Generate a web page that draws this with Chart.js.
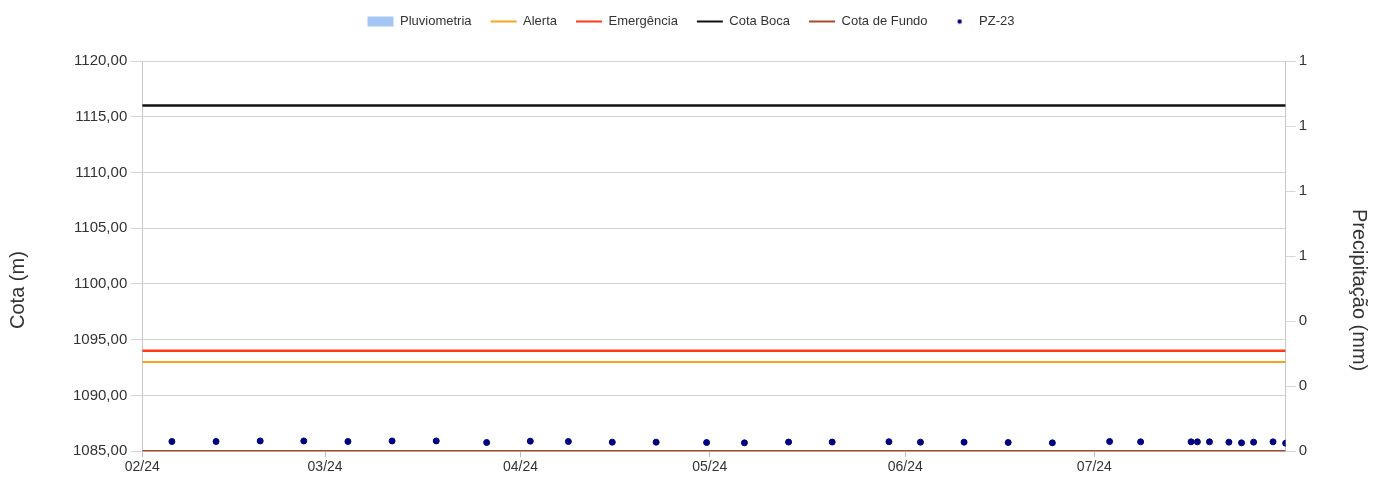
<!DOCTYPE html>
<html>
<head>
<meta charset="utf-8">
<title>PZ-23</title>
<script src="https://cdn.jsdelivr.net/npm/chart.js@4.4.1/dist/chart.umd.min.js"></script>
<style>
  html, body { margin: 0; padding: 0; background: #fff; }
  #wrap { width: 1389px; height: 499px; }
</style>
</head>
<body>
<div id="wrap"><canvas id="levelChart"></canvas></div>
<script>
// Leituras do piezômetro PZ-23 (data/hora e cota em m)
const readingDates = [
  '2024-02-05T17:00', '2024-02-12T17:00', '2024-02-19T17:00', '2024-02-26T15:00',
  '2024-03-04T15:00', '2024-03-11T15:00', '2024-03-18T15:00', '2024-03-26T15:00',
  '2024-04-02T13:00', '2024-04-08T14:00', '2024-04-15T13:00', '2024-04-22T12:00',
  '2024-04-30T12:00', '2024-05-06T12:00', '2024-05-13T12:00', '2024-05-20T10:00',
  '2024-05-29T10:00', '2024-06-03T10:00', '2024-06-10T08:00', '2024-06-17T08:00',
  '2024-06-24T08:00', '2024-07-03T10:00', '2024-07-08T08:00', '2024-07-16T08:00',
  '2024-07-17T08:00', '2024-07-19T06:00', '2024-07-22T08:00', '2024-07-24T08:00',
  '2024-07-26T06:00', '2024-07-29T08:00', '2024-07-31T08:00'
];
const pz23Levels = [
  1085.87, 1085.87, 1085.92, 1085.92, 1085.87, 1085.92, 1085.92, 1085.78,
  1085.90, 1085.87, 1085.81, 1085.81, 1085.78, 1085.75, 1085.82, 1085.82,
  1085.85, 1085.81, 1085.81, 1085.78, 1085.75, 1085.87, 1085.84, 1085.84,
  1085.84, 1085.84, 1085.81, 1085.75, 1085.81, 1085.84, 1085.72
];

// Pluviometria: sem registros no período
const rainDates = [];
const rainValues = [];

// Níveis de referência (m)
const alertaLevel = 1093;
const emergenciaLevel = 1094;
const cotaBocaLevel = 1116;
const cotaFundoLevel = 1085;

// Eixo X: início do período e rótulos dos meses
const periodStart = '2024-02-01T00:00';
const monthStarts = ['2024-02-01T00:00', '2024-03-01T00:00', '2024-04-01T00:00',
                     '2024-05-01T00:00', '2024-06-01T00:00', '2024-07-01T00:00'];
const monthLabels = ['02/24', '03/24', '04/24', '05/24', '06/24', '07/24'];

const DAY = 86400000;
const toDay = s => (Date.parse(s + ':00Z') - Date.parse(periodStart + ':00Z')) / DAY;

const xStart = 0;
const xEnd = toDay(readingDates[readingDates.length - 1]);
const levelLine = v => [{ x: xStart, y: v }, { x: xEnd, y: v }];

const FONT = "'Liberation Sans', Arial, sans-serif";
const TEXT = '#333333';
const GRID = '#d6d6d6';

// legenda: ponto pequeno para PZ-23
const dot = document.createElement('canvas');
dot.width = 6; dot.height = 6;
const dctx = dot.getContext('2d');
dctx.fillStyle = '#000080';
dctx.beginPath(); dctx.arc(3, 3, 2.2, 0, Math.PI * 2); dctx.fill();

// espaço extra abaixo da legenda
const legendGap = {
  id: 'legendGap',
  beforeInit(chart) {
    const fit = chart.legend.fit;
    chart.legend.fit = function () {
      fit.bind(chart.legend)();
      this.height += 23;
    };
  }
};

// títulos dos eixos Y um pouco abaixo do centro, como no original
const titleShift = {
  id: 'titleShift',
  afterLayout(chart) {
    ['y', 'y1'].forEach(id => {
      const s = chart.scales[id];
      if (!s || s._titleShifted) return;
      const draw = s.drawTitle.bind(s);
      s.drawTitle = function () {
        this.ctx.save();
        this.ctx.translate(0, 34);
        draw();
        this.ctx.restore();
      };
      s._titleShifted = true;
    });
  }
};

const ctx = document.getElementById('levelChart').getContext('2d');
new Chart(ctx, {
  data: {
    datasets: [
      {
        type: 'bar', label: 'Pluviometria', yAxisID: 'y1',
        data: rainDates.map((d, i) => ({ x: toDay(d), y: rainValues[i] })),
        backgroundColor: '#a3c6f5', borderWidth: 0, pointStyle: 'rect'
      },
      {
        type: 'line', label: 'Alerta', data: levelLine(alertaLevel),
        borderColor: '#f7a21b', backgroundColor: '#f7a21b', borderWidth: 2,
        pointRadius: 0, pointStyle: 'line'
      },
      {
        type: 'line', label: 'Emergência', data: levelLine(emergenciaLevel),
        borderColor: '#ff3a14', backgroundColor: '#ff3a14', borderWidth: 2.5,
        pointRadius: 0, pointStyle: 'line'
      },
      {
        type: 'line', label: 'Cota Boca', data: levelLine(cotaBocaLevel),
        borderColor: '#111111', backgroundColor: '#111111', borderWidth: 2.5,
        pointRadius: 0, pointStyle: 'line'
      },
      {
        type: 'line', label: 'Cota de Fundo', data: levelLine(cotaFundoLevel),
        borderColor: '#a84a28', backgroundColor: '#a84a28', borderWidth: 2.5,
        pointRadius: 0, pointStyle: 'line'
      },
      {
        type: 'scatter', label: 'PZ-23',
        data: readingDates.map((d, i) => ({ x: toDay(d), y: pz23Levels[i] })),
        backgroundColor: '#000080', borderColor: '#000080',
        pointRadius: 3, pointHoverRadius: 3
      }
    ]
  },
  plugins: [legendGap, titleShift],
  options: {
    responsive: true,
    maintainAspectRatio: false,
    animation: false,
    layout: { padding: { left: 4, right: 11, top: -4, bottom: 21 } },
    plugins: {
      legend: {
        position: 'top',
        labels: {
          usePointStyle: true,
          pointStyleWidth: 26,
          boxWidth: 26,
          boxHeight: 10,
          padding: 19,
          color: TEXT,
          font: { family: FONT, size: 13 },
          generateLabels(chart) {
            const items = Chart.defaults.plugins.legend.labels.generateLabels(chart);
            items.forEach(it => {
              const ds = chart.data.datasets[it.datasetIndex];
              if (ds.type === 'line') {
                it.lineWidth = 2;
                it.strokeStyle = ds.borderColor;
              } else if (ds.type === 'bar') {
                it.lineWidth = 0;
                it.fillStyle = ds.backgroundColor;
              } else {
                it.pointStyle = dot;
              }
            });
            return items;
          }
        }
      },
      tooltip: { enabled: false }
    },
    scales: {
      x: {
        type: 'linear',
        offset: false,
        min: xStart,
        max: xEnd,
        afterBuildTicks(scale) {
          scale.ticks = monthStarts.map(toDay).map(v => ({ value: v }));
        },
        ticks: {
          autoSkip: false,
          maxRotation: 0,
          color: TEXT,
          font: { family: FONT, size: 14 },
          padding: 2,
          callback: (v, i) => monthLabels[i]
        },
        grid: { offset: false, drawOnChartArea: false, tickLength: 6, color: '#bdbdbd' },
        border: { display: true, color: '#bdbdbd' }
      },
      y: {
        position: 'left',
        min: 1085,
        max: 1120,
        ticks: {
          stepSize: 5,
          color: TEXT,
          font: { family: FONT, size: 15 },
          padding: 3,
          callback: v => v.toFixed(2).replace('.', ',')
        },
        grid: { color: GRID, tickLength: 12 },
        border: { display: true, color: '#c8c8c8' },
        title: {
          display: true, text: 'Cota (m)', color: TEXT,
          font: { family: FONT, size: 20 }, padding: { top: 2, bottom: 40 }
        }
      },
      y1: {
        position: 'right',
        min: 0,
        max: 1.2,
        ticks: {
          stepSize: 0.2,
          color: TEXT,
          font: { family: FONT, size: 15 },
          padding: 3,
          callback: v => Math.round(v)
        },
        grid: { drawOnChartArea: false, color: GRID, tickLength: 10 },
        border: { display: true, color: '#c8c8c8' },
        title: {
          display: true, text: 'Precipitação (mm)', color: TEXT,
          font: { family: FONT, size: 20 }, padding: { top: 7, bottom: 37 }
        }
      }
    }
  }
});
</script>
</body>
</html>
